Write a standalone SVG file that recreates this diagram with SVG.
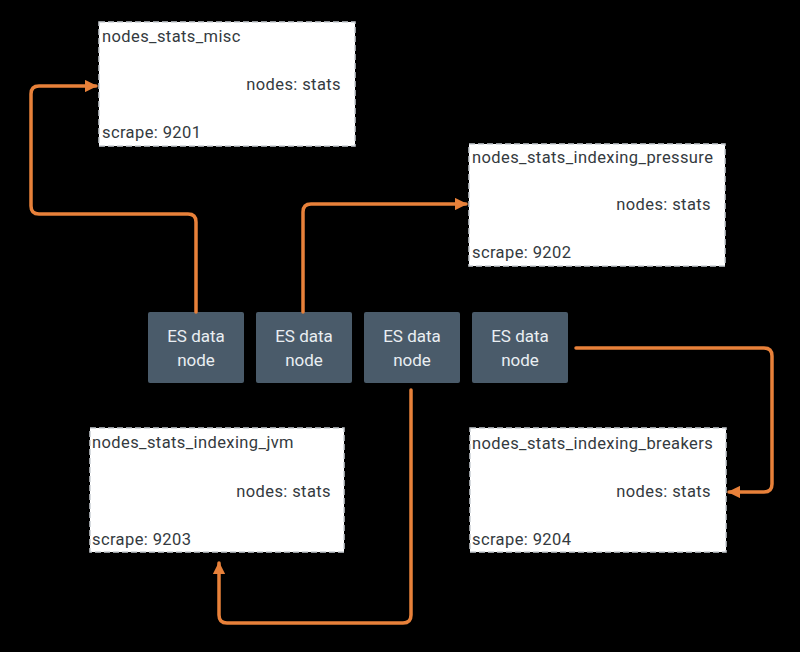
<svg xmlns="http://www.w3.org/2000/svg" width="800" height="652" viewBox="0 0 800 652">
<defs>
<style>
.box{fill:#ffffff;stroke:#c9ced3;stroke-width:1.5;stroke-dasharray:6 3}
.bt{font-family:Roboto,"Liberation Sans",sans-serif;font-size:16.5px;fill:#343a40;letter-spacing:0.4px}
.es{fill:#4a5b6a}
.et{font-family:Roboto,"Liberation Sans",sans-serif;font-size:17px;fill:#e9eef2;text-anchor:middle}
.c{fill:none;stroke:#e8813a;stroke-width:3.5;stroke-linejoin:round;stroke-linecap:round}
</style>
<marker id="ah" viewBox="0 0 10 10" refX="9" refY="5" markerWidth="3.6" markerHeight="3.6" markerUnits="strokeWidth" orient="auto">
<path d="M0,0 L10,5 L0,10 z" fill="#e8813a"/>
</marker>
</defs>
<rect x="0" y="0" width="800" height="652" fill="#000000"/>
<g id="misc">
<rect class="box" x="99" y="22" width="256" height="124"/>
<text class="bt" x="102" y="42">nodes_stats_misc</text>
<text class="bt" x="341" y="90" text-anchor="end">nodes: stats</text>
<text class="bt" x="102" y="138">scrape: 9201</text>
</g>
<g id="pressure">
<rect class="box" x="469" y="144" width="256" height="122"/>
<text class="bt" x="472" y="163">nodes_stats_indexing_pressure</text>
<text class="bt" x="711" y="210" text-anchor="end">nodes: stats</text>
<text class="bt" x="472" y="258">scrape: 9202</text>
</g>
<g id="jvm">
<rect class="box" x="90" y="428" width="254" height="124"/>
<text class="bt" x="92" y="448">nodes_stats_indexing_jvm</text>
<text class="bt" x="331" y="497" text-anchor="end">nodes: stats</text>
<text class="bt" x="92" y="545">scrape: 9203</text>
</g>
<g id="breakers">
<rect class="box" x="470" y="428" width="256" height="124"/>
<text class="bt" x="472" y="449">nodes_stats_indexing_breakers</text>
<text class="bt" x="711" y="497" text-anchor="end">nodes: stats</text>
<text class="bt" x="472" y="545">scrape: 9204</text>
</g>
<g id="es1">
<rect class="es" x="148" y="312" width="96" height="71" rx="2"/>
<text class="et" x="196" y="342">ES data</text>
<text class="et" x="196" y="366">node</text>
</g>
<g id="es2">
<rect class="es" x="256" y="312" width="96" height="71" rx="2"/>
<text class="et" x="304" y="342">ES data</text>
<text class="et" x="304" y="366">node</text>
</g>
<g id="es3">
<rect class="es" x="364" y="312" width="96" height="71" rx="2"/>
<text class="et" x="412" y="342">ES data</text>
<text class="et" x="412" y="366">node</text>
</g>
<g id="es4">
<rect class="es" x="472" y="312" width="96" height="71" rx="2"/>
<text class="et" x="520" y="342">ES data</text>
<text class="et" x="520" y="366">node</text>
</g>
<g id="connectors">
<path class="c" marker-end="url(#ah)" d="M196,312 V222 Q196,214 188,214 H39 Q31,214 31,206 V94 Q31,86 39,86 H96"/>
<path class="c" marker-end="url(#ah)" d="M303,312 V212 Q303,204 311,204 H466"/>
<path class="c" marker-end="url(#ah)" d="M411,390 V615 Q411,623 403,623 H227 Q219,623 219,615 V563"/>
<path class="c" marker-end="url(#ah)" d="M576,348 H764 Q772,348 772,356 V484 Q772,492 764,492 H729"/>
</g>
</svg>
